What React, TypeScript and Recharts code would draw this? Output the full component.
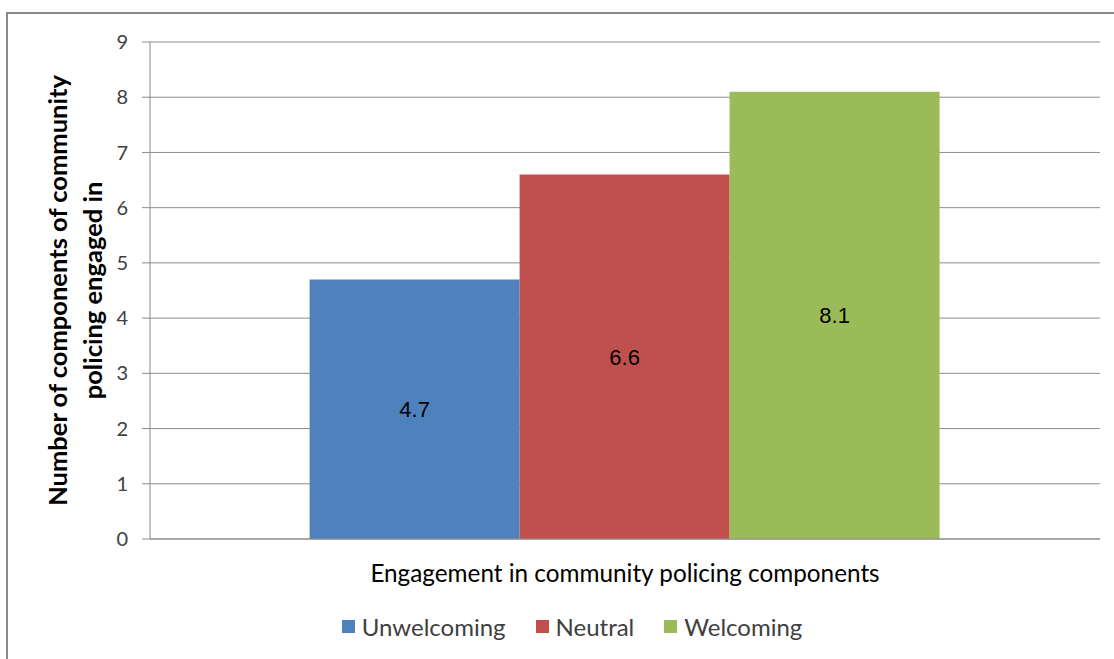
import React from "react";
import { BarChart, Bar, XAxis, YAxis, CartesianGrid, LabelList } from "recharts";

const categories = ["Engagement in community policing components"];
const unwelcoming = [4.7];
const neutral = [6.6];
const welcoming = [8.1];
const yTicks = [0, 1, 2, 3, 4, 5, 6, 7, 8, 9];
const seriesNames = ["Unwelcoming", "Neutral", "Welcoming"];
const seriesColors = ["#4F81BD", "#C0504D", "#9BBB59"];
const yLabelLines = ["Number of components of community", "policing engaged in"];

const data = categories.map((c, i) => ({
  name: c,
  Unwelcoming: unwelcoming[i],
  Neutral: neutral[i],
  Welcoming: welcoming[i],
}));

const FONT = "Lato, 'Open Sans', sans-serif";

const YLabel = (props: any) => {
  const vb = props.viewBox || {};
  const cy = vb.y + vb.height / 2;
  return (
    <g>
      {yLabelLines.map((t, i) => (
        <text
          key={i}
          x={0}
          y={0}
          transform={`translate(${67 + i * 35}, ${cy}) rotate(-90)`}
          textAnchor="middle"
          fontFamily={FONT}
          fontWeight="bold"
          fontSize={25.5}
          fill="#000"
        >
          {t}
        </text>
      ))}
    </g>
  );
};

export default function App() {
  return (
    <div style={{ position: "absolute", left: 0, top: 0, width: 1114, height: 659, overflow: "hidden", background: "#fff" }}>
      <div style={{ position: "absolute", left: 6, top: 12, width: 1200, height: 800, border: "2px solid #8a8a8a", boxSizing: "border-box" }} />
      <div style={{ position: "absolute", left: 0, top: 0 }}>
        <BarChart
          width={1114}
          height={659}
          data={data}
          margin={{ top: 42, right: 14, bottom: 90, left: 0 }}
          barCategoryGap="16.8%"
          barGap={0}
        >
          <CartesianGrid vertical={false} stroke="#8c8c8c" />
          <XAxis dataKey="name" xAxisId="cat" hide height={0} />
          <XAxis
            xAxisId="frame"
            type="number"
            domain={[0, 1]}
            ticks={[0, 1]}
            tick={false}
            tickSize={9}
            tickLine={{ stroke: "#8a8a8a" }}
            axisLine={{ stroke: "#8a8a8a" }}
            height={30}
          />
          <YAxis
            width={150}
            domain={[0, 9]}
            ticks={yTicks}
            interval={0}
            tickSize={8}
            tickMargin={14}
            tickLine={{ stroke: "#8a8a8a" }}
            axisLine={{ stroke: "#8a8a8a" }}
            tick={{ fontFamily: FONT, fontSize: 20, fill: "#404040" }}
            label={<YLabel />}
          />
          {seriesNames.map((s, i) => (
            <Bar key={s} dataKey={s} xAxisId="cat" fill={seriesColors[i]} isAnimationActive={false}>
              <LabelList dataKey={s} position="center" fill="#000" fontSize={22} fontFamily="'Liberation Sans', Arial, sans-serif" />
            </Bar>
          ))}
        </BarChart>
      </div>
      <div
        style={{
          position: "absolute",
          left: 150,
          width: 950,
          top: 558,
          textAlign: "center",
          fontFamily: FONT,
          fontSize: 24.3,
          color: "#000",
          lineHeight: "30px",
        }}
      >
        {categories[0]}
      </div>
      <div
        style={{
          position: "absolute",
          left: 15,
          width: 1114,
          top: 612,
          display: "flex",
          justifyContent: "center",
          alignItems: "center",
          fontFamily: FONT,
          fontSize: 24,
          color: "#404040",
        }}
      >
        {seriesNames.map((s, i) => (
          <div key={s} style={{ display: "flex", alignItems: "center", marginRight: i < seriesNames.length - 1 ? 30 : 0 }}>
            <span style={{ display: "inline-block", width: 13, height: 13, background: seriesColors[i], marginRight: 7 }} />
            <span>{s}</span>
          </div>
        ))}
      </div>
    </div>
  );
}
